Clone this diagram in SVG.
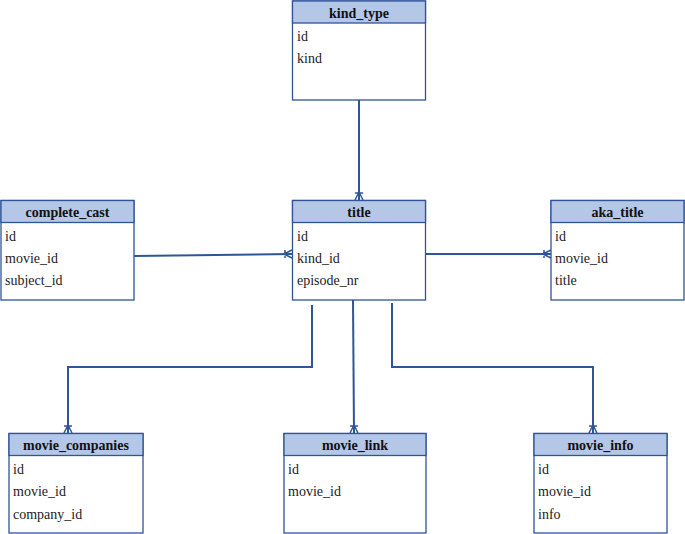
<svg xmlns="http://www.w3.org/2000/svg" width="685" height="534" viewBox="0 0 685 534">
<style>
.box{fill:#ffffff;stroke:#2f5597;stroke-width:1.3}
.hdr{fill:#b4c7e7;stroke:#2f5597;stroke-width:1.3}
.ht{font-family:"Liberation Serif",serif;font-size:14px;font-weight:bold;fill:#111;text-anchor:middle}
.ft{font-family:"Liberation Serif",serif;font-size:14px;fill:#222}
.con{fill:none;stroke:#2f5597;stroke-width:2}
.cf{fill:none;stroke:#2f5597;stroke-width:1.5}
</style>
<rect width="685" height="534" fill="#ffffff"/>
<g id="connectors">
  <path class="con" d="M359 100 V200"/>
  <path class="cf" d="M355 193 H363 M359 192 L355 200 M359 192 L363 200"/>
  <path class="con" d="M134 256 L292 254"/>
  <path class="cf" d="M285 250 V258 M284 254 L292 250 M284 254 L292 258"/>
  <path class="con" d="M426 254 H551"/>
  <path class="cf" d="M544 250 V258 M543 254 L551 250 M543 254 L551 258"/>
  <path class="con" d="M312 305 V367 H68 V433"/>
  <path class="cf" d="M64 426 H72 M68 425 L64 433 M68 425 L72 433"/>
  <path class="con" d="M353 300 L354 433"/>
  <path class="cf" d="M350 426 H358 M354 425 L350 433 M354 425 L358 433"/>
  <path class="con" d="M392 303 V367 H593 V433"/>
  <path class="cf" d="M589 426 H597 M593 425 L589 433 M593 425 L597 433"/>
</g>
<g id="kind_type">
  <rect class="box" x="292.5" y="1" width="133" height="99"/>
  <rect class="hdr" x="292.5" y="1" width="133" height="22"/>
  <text class="ht" x="359" y="18">kind_type</text>
  <text class="ft" x="297" y="41">id</text>
  <text class="ft" x="297" y="63">kind</text>
</g>
<g id="title">
  <rect class="box" x="292.5" y="200.5" width="133" height="99.5"/>
  <rect class="hdr" x="292.5" y="200.5" width="133" height="22"/>
  <text class="ht" x="359" y="217">title</text>
  <text class="ft" x="297" y="241">id</text>
  <text class="ft" x="297" y="263">kind_id</text>
  <text class="ft" x="297" y="285">episode_nr</text>
</g>
<g id="complete_cast">
  <rect class="box" x="1" y="200.5" width="133" height="99.5"/>
  <rect class="hdr" x="1" y="200.5" width="133" height="22"/>
  <text class="ht" x="67.5" y="217">complete_cast</text>
  <text class="ft" x="5" y="241">id</text>
  <text class="ft" x="5" y="263">movie_id</text>
  <text class="ft" x="5" y="285">subject_id</text>
</g>
<g id="aka_title">
  <rect class="box" x="551" y="200.5" width="133" height="99.5"/>
  <rect class="hdr" x="551" y="200.5" width="133" height="22"/>
  <text class="ht" x="617.5" y="217">aka_title</text>
  <text class="ft" x="555" y="241">id</text>
  <text class="ft" x="555" y="263">movie_id</text>
  <text class="ft" x="555" y="285">title</text>
</g>
<g id="movie_companies">
  <rect class="box" x="9" y="433.5" width="134" height="99.5"/>
  <rect class="hdr" x="9" y="433.5" width="134" height="22"/>
  <text class="ht" x="76" y="450">movie_companies</text>
  <text class="ft" x="13" y="474">id</text>
  <text class="ft" x="13" y="496">movie_id</text>
  <text class="ft" x="13" y="519">company_id</text>
</g>
<g id="movie_link">
  <rect class="box" x="284" y="433.5" width="142" height="99.5"/>
  <rect class="hdr" x="284" y="433.5" width="142" height="22"/>
  <text class="ht" x="355" y="450">movie_link</text>
  <text class="ft" x="288" y="474">id</text>
  <text class="ft" x="288" y="496">movie_id</text>
</g>
<g id="movie_info">
  <rect class="box" x="534" y="433.5" width="133" height="99.5"/>
  <rect class="hdr" x="534" y="433.5" width="133" height="22"/>
  <text class="ht" x="600.5" y="450">movie_info</text>
  <text class="ft" x="538" y="474">id</text>
  <text class="ft" x="538" y="496">movie_id</text>
  <text class="ft" x="538" y="519">info</text>
</g>
</svg>
